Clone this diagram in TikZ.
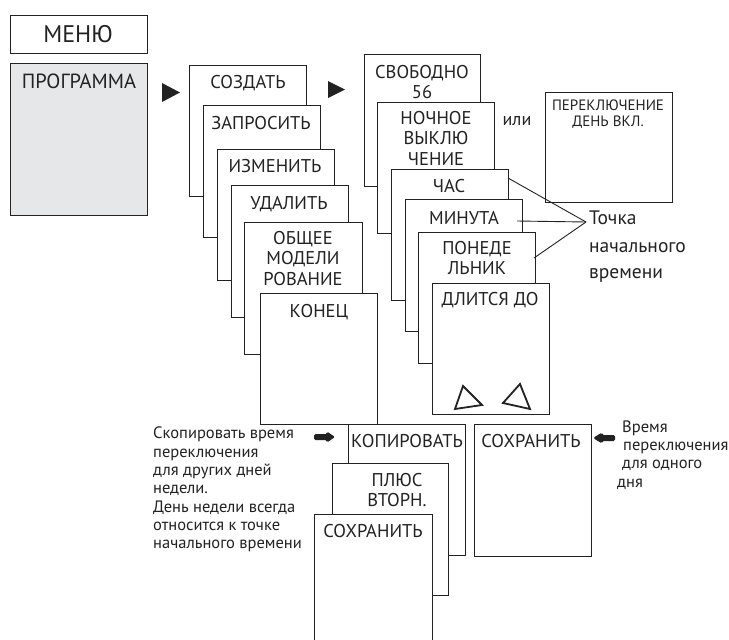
\documentclass[tikz,border=0pt]{standalone}
\usepackage{fontspec}
\setmainfont{PT Sans}
\definecolor{progfill}{HTML}{E6E7E9}
\definecolor{lncol}{HTML}{222222}
\begin{document}
\begin{tikzpicture}[x=1pt,y=-1pt,
  box/.style={draw=lncol,line width=0.9pt,fill=white,inner sep=0pt,outer sep=0pt,anchor=north west},
  lbl/.style={inner sep=0pt,align=center,font=\fontsize{18.5}{20.5}\selectfont,text=lncol},
  note/.style={inner sep=0pt,align=left,font=\fontsize{16.5}{18.4}\selectfont,text=lncol},
  conn/.style={draw=lncol,line width=0.9pt}]
\useasboundingbox (0,0) rectangle (729,640);
\newcommand\bx[6]{\node[box,minimum width=#4pt,minimum height=#5pt,#6] (#1) at (#2,#3) {};}
% left menu
\bx{menu}{10}{15}{137}{38}{}
\bx{prog}{10}{63}{137}{152}{fill=progfill}
\node[lbl,font=\fontsize{24}{26}\selectfont] (tmenu) at (78,34) {МЕНЮ};
\node[lbl,font=\fontsize{20.5}{21}\selectfont] (tprog) at (79,81) {ПРОГРАММА};
% arrows
\fill[lncol] (162,83) -- (180,92.5) -- (162,102) -- cycle;
\fill[lncol] (328,81) -- (345,89.5) -- (328,98) -- cycle;
% first stack
\bx{sozdat}{189}{65}{117}{131}{}
\node[lbl] (tsozdat) at (248,83) {СОЗДАТЬ};
\bx{zapros}{203}{105}{117}{132}{}
\node[lbl] (tzapros) at (261,123) {ЗАПРОСИТЬ};
\bx{izmen}{217}{149}{117}{131}{}
\node[lbl] (tizmen) at (275,166) {ИЗМЕНИТЬ};
\bx{udal}{231}{185}{117}{132}{}
\node[lbl] (tudal) at (289,204) {УДАЛИТЬ};
\bx{obsh}{244}{222}{118}{132}{}
\node[lbl,anchor=north] (tobsh) at (303,231) {ОБЩЕЕ\\МОДЕЛИ\\РОВАНИЕ};
\bx{konec}{260}{293}{117}{131}{}
\node[lbl] (tkonec) at (319,312) {КОНЕЦ};
% second stack
\bx{svob}{364}{54}{116}{132}{}
\node[lbl,anchor=north] (tsvob) at (422,65) {СВОБОДНО\\56};
\bx{noch}{377}{102}{117}{131}{}
\node[lbl,anchor=north] (tnoch) at (436,111) {НОЧНОЕ\\ВЫКЛЮ\\ЧЕНИЕ};
\bx{chas}{391}{169}{117}{131}{}
\node[lbl] (tchas) at (449,186) {ЧАС};
\bx{minuta}{405}{199}{117}{132}{}
\node[lbl] (tminuta) at (464,218) {МИНУТА};
\bx{pon}{418}{232}{117}{131}{}
\node[lbl,anchor=north] (tpon) at (477,241) {ПОНЕДЕ\\ЛЬНИК};
\bx{dlit}{432}{283}{117}{131}{}
\node[lbl] (tdlit) at (490,300) {ДЛИТСЯ ДО};
\draw[lncol,line width=1.8pt,line join=miter] (455,409) -- (482,405) -- (463,386) -- cycle;
\draw[lncol,line width=1.8pt,line join=miter] (503,403) -- (530,409) -- (520,384) -- cycle;
% or box
\node[lbl,font=\fontsize{18}{20}\selectfont] (tili) at (517,121) {или};
\bx{perekl}{545}{92}{127}{110}{}
\node[lbl,anchor=north,font=\fontsize{15}{15.5}\selectfont] (tperekl) at (608,100) {ПЕРЕКЛЮЧЕНИЕ\\ДЕНЬ ВКЛ.};
% start point label
\coordinate (tp) at (586,222);
\coordinate (cchas) at (508,178);
\coordinate (cmin) at (517,221);
\coordinate (cpon) at (534,258);
\draw[conn] (cchas) -- (tp);
\draw[conn] (cmin) -- (tp);
\draw[conn] (cpon) -- (tp);
\node[note,anchor=base west,font=\fontsize{19.5}{27}\selectfont] (ttochka) at (589,224) {Точка};
\node[note,anchor=base west,font=\fontsize{19.5}{27}\selectfont] (ttochka2) at (589,252) {начального};
\node[note,anchor=base west,font=\fontsize{19.5}{27}\selectfont] (ttochka3) at (589,278) {времени};
% bottom
\bx{kopir}{348}{424}{117}{131}{}
\node[lbl] (tkopir) at (407,441) {КОПИРОВАТЬ};
\bx{plus}{332}{463}{116}{132}{}
\node[lbl,anchor=north] (tplus) at (397,473) {ПЛЮС\\ВТОРН.};
\bx{sohr1}{314}{514}{118}{136}{}
\node[lbl] (tsohr1) at (373,531) {СОХРАНИТЬ};
\bx{sohr2}{474}{424}{117}{132}{}
\node[lbl] (tsohr2) at (531,441) {СОХРАНИТЬ};
% fat arrows
\fill[lncol,rounded corners=1.5pt] (314,434) -- (327,434) -- (327,431.5) -- (335,437) -- (327,442.5) -- (327,440) -- (314,440) -- cycle;
\fill[lncol,rounded corners=1.5pt] (615,435) -- (602,435) -- (602,432.5) -- (593,438) -- (602,443.5) -- (602,441) -- (615,441) -- cycle;
% notes
\node[note,anchor=base west] (nleft1) at (153,438) {Скопировать время};
\node[note,anchor=base west] (nleft2) at (153,457) {переключения};
\node[note,anchor=base west] (nleft3) at (153,475) {для других дней};
\node[note,anchor=base west] (nleft4) at (153,493) {недели.};
\node[note,anchor=base west] (nleft5) at (153,512) {День недели всегда};
\node[note,anchor=base west] (nleft6) at (153,530) {относится к точке};
\node[note,anchor=base west] (nleft7) at (153,548) {начального времени};
\node[note,anchor=base west] (nright1) at (622,432) {Время};
\node[note,anchor=base west] (nright2) at (623,450) {переключения};
\node[note,anchor=base west] (nright3) at (622,468) {для одного};
\node[note,anchor=base west] (nright4) at (617,487) {дня};
\end{tikzpicture}
\end{document}
